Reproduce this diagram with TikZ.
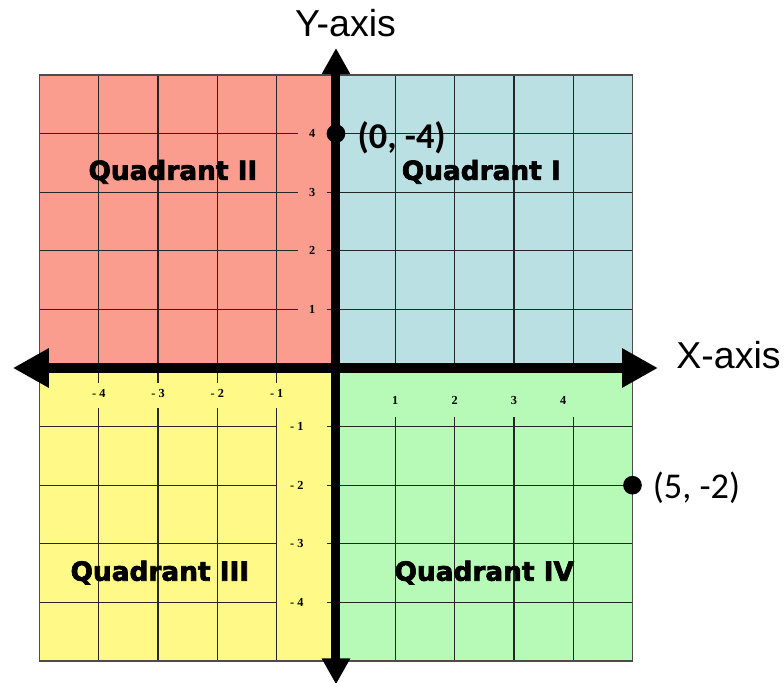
\documentclass[tikz,border=0pt]{standalone}
\usepackage{fontspec}
\setmainfont{Liberation Sans}
\newfontfamily\quadfont{DejaVu Sans}[BoldFeatures={FakeBold=2.5}]
\newfontfamily\pointfont{Carlito}
\newfontfamily\tickfont{Liberation Serif}
\usepackage{tikz}
\usetikzlibrary{arrows.meta,positioning}
\definecolor{quadone}{RGB}{187,224,227}
\definecolor{quadtwo}{RGB}{250,156,142}
\definecolor{quadthree}{RGB}{255,250,135}
\definecolor{quadfour}{RGB}{183,250,183}
\tikzset{
  gridline/.style={line width=1.1pt, black!85},
  border/.style={line width=1.4pt, black!70},
  xaxis/.style={line width=0.3cm, {Triangle[length=1.08cm,width=1.11cm]}-{Triangle[length=1.08cm,width=1.11cm]}},
  yaxis/.style={line width=0.27cm, {Triangle[length=0.78cm,width=0.8cm]}-{Triangle[length=0.78cm,width=0.8cm]}},
  axislabel/.style={font=\fontsize{32}{36}\selectfont, anchor=base, inner sep=0pt},
  quadlabel/.style={font=\quadfont\bfseries\fontsize{22.5}{26}\selectfont, anchor=base, inner sep=0pt},
  ticklabel/.style={font=\tickfont\bfseries\fontsize{10.5}{12}\selectfont, inner sep=0pt},
  dot/.style={circle, fill=black, minimum size=0.56cm, inner sep=0pt},
  ptlabel/.style={font=\pointfont\fontsize{31}{34}\selectfont, anchor=base west, inner sep=0pt}
}

\begin{document}
\begin{tikzpicture}[x=1.779cm, y=1.758cm]
  \useasboundingbox (-10.08cm,-9.45cm) rectangle (13.44cm,11.04cm);

  \fill[quadone] (0,0) rectangle (5,5);
  \fill[quadtwo] (-5,0) rectangle (0,5);
  \fill[quadthree] (-5,-5) rectangle (0,0);
  \fill[quadfour] (0,-5) rectangle (5,0);

  % quadrant I
  \foreach \n in {1,...,4} {
    \draw[gridline] (\n,0) -- (\n,5);
    \draw[gridline] (0,\n) -- (5,\n);
  }
  % quadrant II
  \foreach \n in {1,...,4} {
    \draw[gridline] (-\n,0) -- (-\n,5);
    \draw[gridline] (-5,\n) -- (-0.64,\n);
    \draw[gridline] (-0.16,\n) -- (0,\n);
    \node[ticklabel] (ypos\n) at (-0.40,\n) {\n};
  }
  % quadrant III
  \foreach \n in {1,...,4} {
    \draw[gridline] (-\n,0) -- (-\n,-0.26);
    \draw[gridline] (-\n,-0.68) -- (-\n,-5);
    \draw[gridline] (-5,-\n) -- (-1,-\n);
    \draw[gridline] (-0.16,-\n) -- (0,-\n);
    \node[ticklabel] (xneg\n) at (-\n,-0.44) {- \n};
    \node[ticklabel] (yneg\n) at (-0.66,-\n) {- \n};
  }
  % quadrant IV
  \foreach \n/\px in {1/1,2/2,3/3,4/3.83} {
    \draw[gridline] (\n,-0.84) -- (\n,-5);
    \draw[gridline] (0,-\n) -- (5,-\n);
    \node[ticklabel] (xpos\n) at (\px,-0.55) {\n};
  }
  \draw[border] (-5,-5) rectangle (5,5);

  \coordinate (xleft) at (-5.45,0);
  \coordinate (xright) at (5.43,0);
  \coordinate (ytop) at (0,5.46);
  \coordinate (ybottom) at (0,-5.40);
  \draw[xaxis] (xleft) -- (xright);
  \draw[yaxis] (ybottom) -- (ytop);

  \node[axislabel] (ylabel) at (0.16,5.65) {Y-axis};
  \node[axislabel] (xlabel) at (6.62,0) {X-axis};

  \node[quadlabel] (quadI) at (2.45,3.21) {Quadrant I};
  \node[quadlabel] (quadII) at (-2.75,3.21) {Quadrant II};
  \node[quadlabel] (quadIII) at (-2.97,-3.63) {Quadrant III};
  \node[quadlabel] (quadIV) at (2.50,-3.63) {Quadrant IV};

  \node[dot] (ptA) at (0,4) {};
  \node[dot] (ptB) at (5,-2) {};
  \node[ptlabel, font=\pointfont\bfseries\fontsize{31}{34}\selectfont] (ptAlabel) at (0.36,3.75) {(0, -4)};
  \node[ptlabel] (ptBlabel) at (5.34,-2.22) {(5, -2)};
\end{tikzpicture}
\end{document}
